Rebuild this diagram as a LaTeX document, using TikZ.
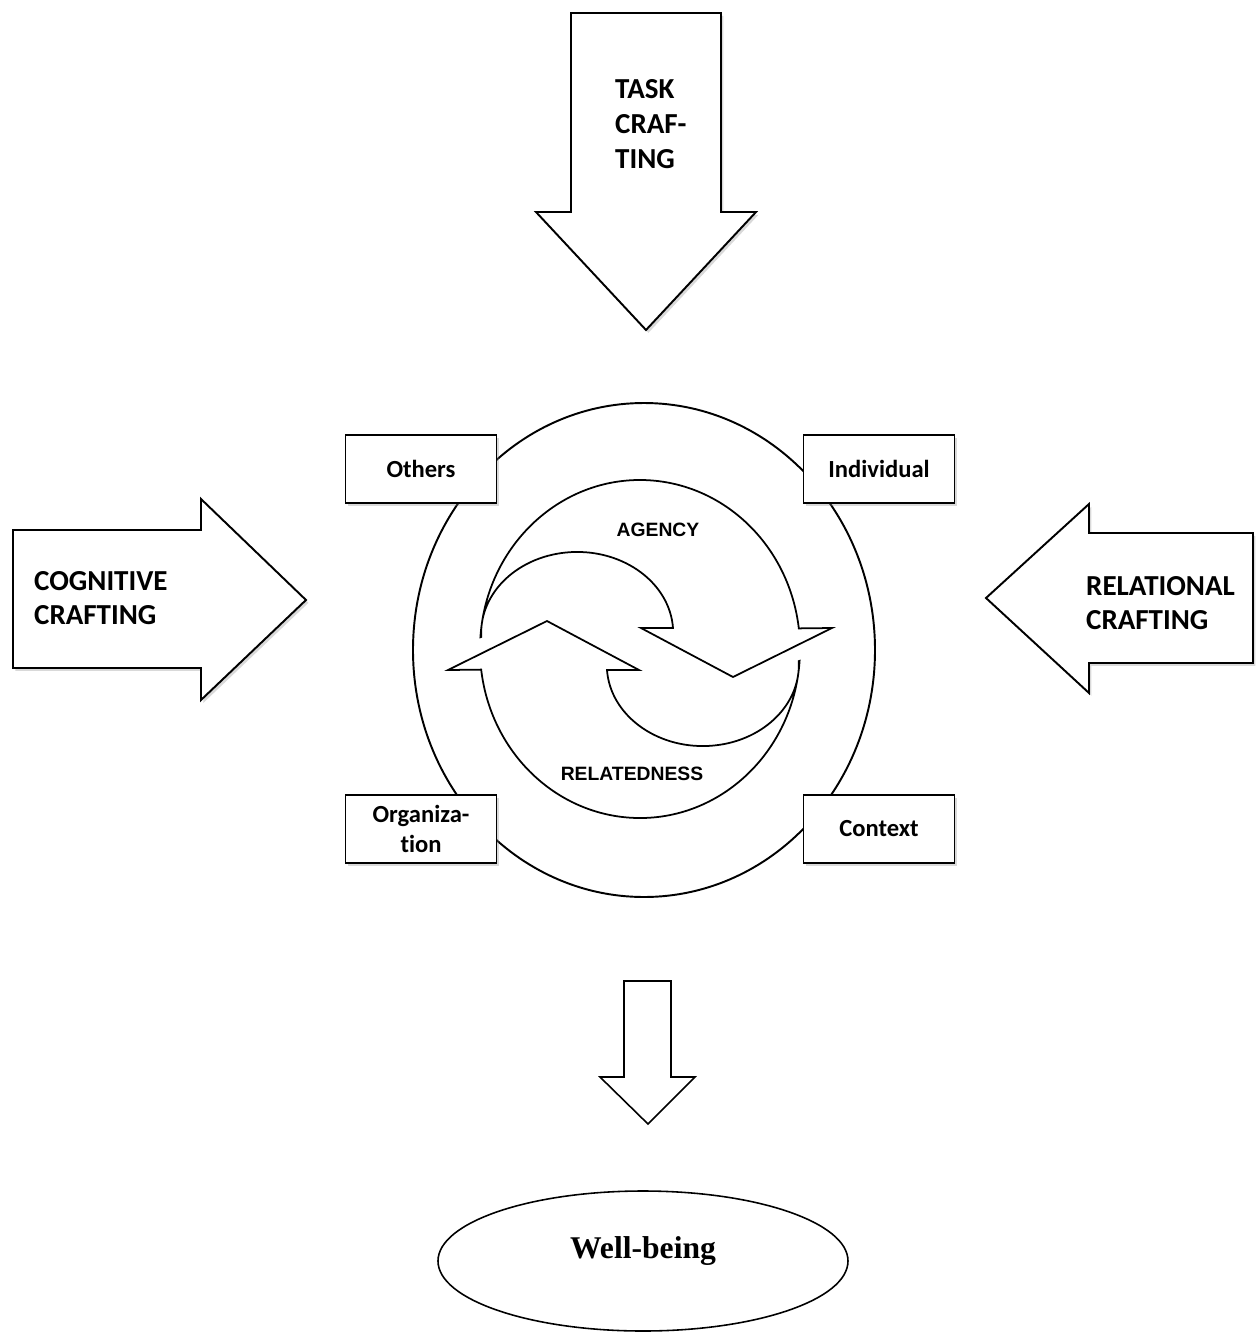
\documentclass[tikz,border=0pt]{standalone}
\usepackage{fontspec}
\usetikzlibrary{shadows}
\newfontfamily\calfont[Ligatures=NoCommon]{Carlito}
\newfontfamily\arialfont{Liberation Sans}
\newfontfamily\timesfont{Liberation Serif}

\tikzset{
    softshadow/.style={drop shadow={shadow xshift=1.4pt, shadow yshift=-1.6pt, opacity=0.3}},
    bigarrow/.style={line width=1.1pt, fill=white, line join=miter, softshadow},
    smallbox/.style={draw, line width=1.1pt, fill=white, minimum width=3.02cm, minimum height=1.36cm,
        align=center, font=\calfont\bfseries\fontsize{14}{17}\selectfont, softshadow},
    crafttext/.style={anchor=west, align=left, font=\calfont\bfseries\fontsize{16.5}{19.8}\selectfont},
    looptext/.style={font=\arialfont\bfseries\fontsize{11}{13}\selectfont},
    loopline/.style={line width=1pt, fill=white, line join=miter},
}

\begin{document}
\begin{tikzpicture}[x=0.02cm, y=-0.02cm]

    \useasboundingbox (0,0) rectangle (1260,1333);

    % the three crafting arrows
    \draw[bigarrow] (571,13) -- (721,13) -- (721,212) -- (756,212) -- (646,330) -- (536,212) -- (571,212) -- cycle;
    \node[crafttext] (task) at (609,124) {TASK\\CRAF-\\TING};

    \draw[bigarrow] (13,530) -- (201,530) -- (201,499) -- (306,600) -- (201,700) -- (201,668) -- (13,668) -- cycle;
    \node[crafttext] (cognitive) at (28,598) {COGNITIVE\\CRAFTING};

    \draw[bigarrow] (1253,533) -- (1089,533) -- (1089,504) -- (986,598) -- (1089,693) -- (1089,663) -- (1253,663) -- cycle;
    \node[crafttext] (relational) at (1080,603) {RELATIONAL\\CRAFTING};

    % outer circle
    \draw[line width=1.1pt] (644,650) ellipse [x radius=231, y radius=247];

    % agency and relatedness loop
    \draw[loopline] (480.4,637.2) arc[start angle=184, end angle=353, x radius=160, y radius=169]
        -- (832,628) -- (733,677) -- (641,628) -- (673,628)
        arc[start angle=356.5, end angle=177.2, x radius=96, y radius=81] -- cycle;
    \draw[loopline] (799.6,660.8) arc[start angle=4, end angle=173, x radius=160, y radius=169]
        -- (448,670) -- (547,621) -- (639,670) -- (607,670)
        arc[start angle=176.5, end angle=-2.8, x radius=96, y radius=81] -- cycle;
    \node[looptext] (agency) at (658,530) {AGENCY};
    \node[looptext] (relatedness) at (632,774) {RELATEDNESS};

    \node[smallbox] (others) at (421,469) {Others};
    \node[smallbox] (individual) at (879,469) {Individual};
    \node[smallbox] (organization) at (421,829) {Organiza-\\tion};
    \node[smallbox] (context) at (879,829) {Context};

    % outcome
    \draw[line width=0.9pt, fill=white] (624,981) -- (671,981) -- (671,1077) -- (695,1077) -- (648,1124) -- (600,1077) -- (624,1077) -- cycle;
    \draw[line width=0.9pt] (643,1261) ellipse [x radius=205, y radius=70];
    \node[font=\timesfont\bfseries\fontsize{18}{21}\selectfont] (wellbeing) at (643,1251) {Well-being};

\end{tikzpicture}
\end{document}
